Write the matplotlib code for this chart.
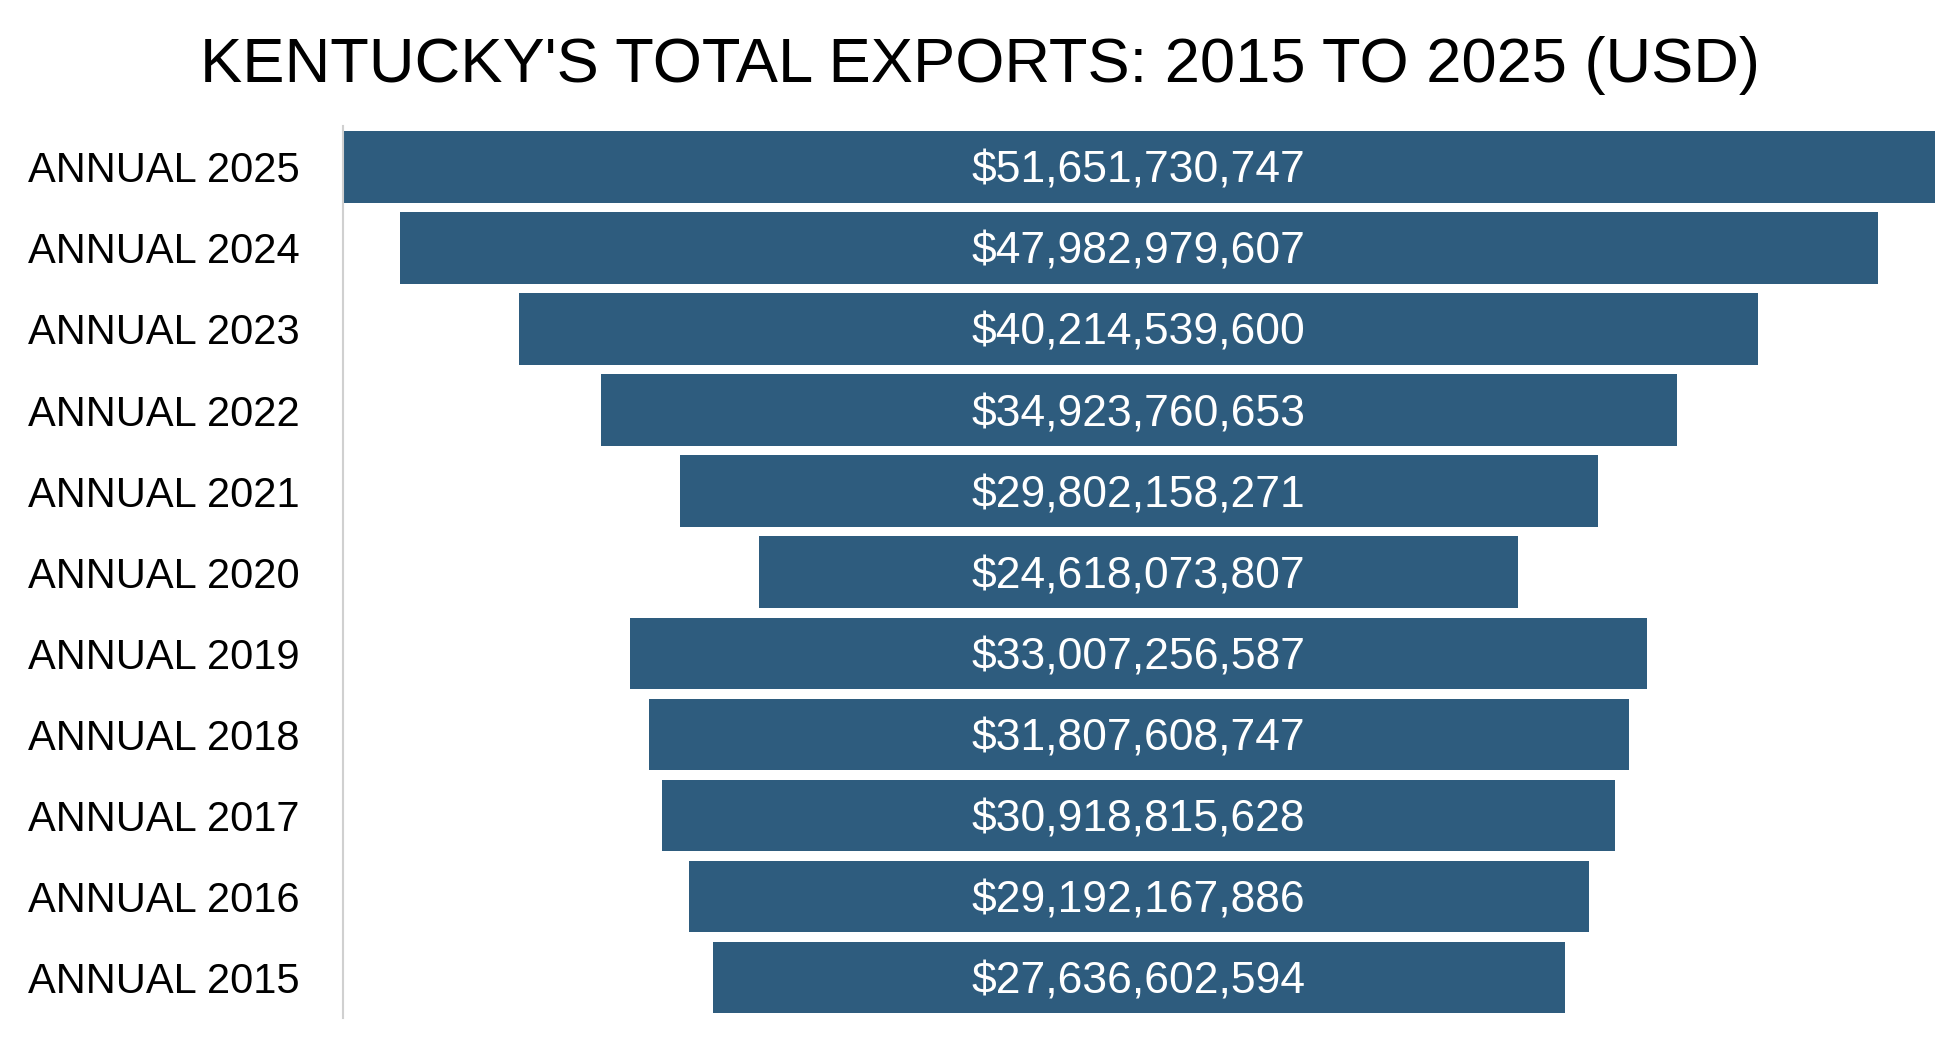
import matplotlib
matplotlib.use("Agg")
import matplotlib.pyplot as plt

# values (USD)
years = ["ANNUAL 2025", "ANNUAL 2024", "ANNUAL 2023", "ANNUAL 2022", "ANNUAL 2021",
         "ANNUAL 2020", "ANNUAL 2019", "ANNUAL 2018", "ANNUAL 2017", "ANNUAL 2016",
         "ANNUAL 2015"]
exports = [51651730747, 47982979607, 40214539600, 34923760653, 29802158271,
           24618073807, 33007256587, 31807608747, 30918815628, 29192167886,
           27636602594]

plt.rcParams['font.family'] = ['Liberation Sans', 'DejaVu Sans']

bar_color = "#2E5C7E"

fig = plt.figure(figsize=(19.6, 10.44), dpi=100)
ax = fig.add_axes([0.175, 0.025, 0.812, 0.854])

top = max(exports)
pos = list(range(len(years)))
# funnel: each bar centred on the middle of the widest one
lefts = [(top - v) / 2 for v in exports]
ax.barh(pos, exports, left=lefts, height=0.88, color=bar_color)

for p, v in zip(pos, exports):
    ax.text(top / 2, p, "${:,}".format(v), ha="center", va="center_baseline",
            color="white", fontsize=32)

ax.set_xlim(0, top)
ax.set_ylim(len(years) - 0.5, -0.5)
ax.set_yticks(pos)
ax.set_yticklabels(years, fontsize=30)
ax.tick_params(axis="y", length=0, pad=31)
ax.set_xticks([])
for s in ["top", "right", "bottom"]:
    ax.spines[s].set_visible(False)
ax.spines["left"].set_color("#D0D0D0")
ax.spines["left"].set_linewidth(1.5)

fig.text(0.5, 0.937, "KENTUCKY'S TOTAL EXPORTS: 2015 TO 2025 (USD)",
         ha="center", va="center", fontsize=45.5)

fig.savefig("out.png", dpi=100)
